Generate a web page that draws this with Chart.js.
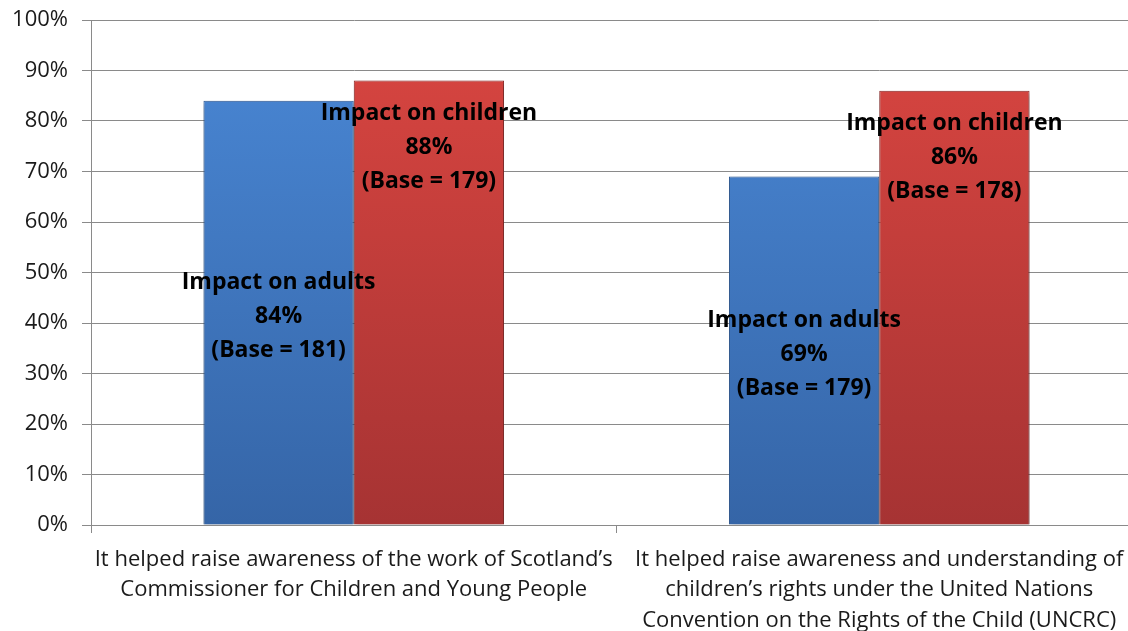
<!DOCTYPE html>
<html>
<head>
<meta charset="utf-8">
<script src="https://cdn.jsdelivr.net/npm/chart.js@4"></script>
<style>
  html, body { margin: 0; padding: 0; background: #fff; overflow: hidden; }
  #wrap { width: 1145px; height: 631px; position: relative; }
</style>
</head>
<body>
<div id="wrap"><canvas id="chart"></canvas></div>
<script>
// categories (x axis labels, already split into lines)
const categories = [
  ['It helped raise awareness of the work of Scotland\u2019s', 'Commissioner for Children and Young People'],
  ['It helped raise awareness and understanding of', 'children\u2019s rights under the United Nations', 'Convention on the Rights of the Child (UNCRC)']
];
const seriesNames = ['Impact on adults', 'Impact on children'];
const adultsValues = [84, 69];
const childrenValues = [88, 86];
const adultsBase = [181, 179];
const childrenBase = [179, 178];
const yTicks = [0, 10, 20, 30, 40, 50, 60, 70, 80, 90, 100];

const FONT = '"Open Sans", Lato, sans-serif';

function barGradient(ctx, top, bottom) {
  const chart = ctx.chart;
  const area = chart.chartArea;
  if (!area) return top;
  const g = chart.ctx.createLinearGradient(0, area.top, 0, area.bottom);
  g.addColorStop(0, top);
  g.addColorStop(1, bottom);
  return g;
}

// soft drop shadow under the bars
const barShadow = {
  id: 'barShadow',
  beforeDatasetsDraw(chart) {
    const ctx = chart.ctx;
    ctx.save();
    ctx.shadowColor = 'rgba(0,0,0,0.35)';
    ctx.shadowBlur = 5;
    ctx.shadowOffsetX = 1;
    ctx.shadowOffsetY = 2;
  },
  afterDatasetsDraw(chart) {
    chart.ctx.restore();
  }
};

// draw the in-bar labels: series name, value, base
const barLabels = {
  id: 'barLabels',
  afterDatasetsDraw(chart) {
    const ctx = chart.ctx;
    ctx.save();
    ctx.font = 'bold 23px ' + FONT;
    ctx.fillStyle = '#000';
    ctx.textAlign = 'center';
    ctx.textBaseline = 'middle';
    const lineGap = 34;
    chart.data.datasets.forEach((ds, di) => {
      const meta = chart.getDatasetMeta(di);
      meta.data.forEach((bar, i) => {
        const lines = [ds.label, ds.data[i] + '%', '(Base = ' + ds.bases[i] + ')'];
        let midY;
        if (di === 0) {
          midY = (bar.y + bar.base) / 2 + 4;
        } else {
          midY = bar.y + 33 + lineGap;
        }
        lines.forEach((t, k) => {
          ctx.fillText(t, bar.x, midY + (k - 1) * lineGap);
        });
      });
    });
    ctx.restore();
  }
};

const chart = new Chart(document.getElementById('chart'), {
  type: 'bar',
  data: {
    labels: categories,
    datasets: [
      {
        label: seriesNames[0],
        data: adultsValues,
        bases: adultsBase,
        backgroundColor: (c) => barGradient(c, '#4a88d6', '#3565a7'),
        borderColor: '#2f5b96',
        borderWidth: 1,
        categoryPercentage: 0.572,
        barPercentage: 1
      },
      {
        label: seriesNames[1],
        data: childrenValues,
        bases: childrenBase,
        backgroundColor: (c) => barGradient(c, '#da4641', '#a63333'),
        borderColor: '#8f2b29',
        borderWidth: 1,
        categoryPercentage: 0.572,
        barPercentage: 1
      }
    ]
  },
  options: {
    responsive: true,
    maintainAspectRatio: false,
    animation: false,
    layout: { padding: { top: 20, right: 3, left: 0, bottom: 0 } },
    plugins: {
      legend: { display: false },
      tooltip: { enabled: false }
    },
    scales: {
      x: {
        grid: {
          display: true,
          drawOnChartArea: false,
          drawTicks: true,
          tickLength: 8,
          color: '#8a8a8a',
          offset: true
        },
        border: { color: '#8a8a8a', width: 1 },
        ticks: {
          color: '#1a1a1a',
          font: { family: FONT, size: 22, lineHeight: 1.4 },
          padding: 11,
          maxRotation: 0,
          autoSkip: false
        },
        afterFit(scale) { scale.height = 106; scale.paddingLeft = 0; scale.paddingRight = 0; }
      },
      y: {
        min: 0,
        max: 100,
        afterBuildTicks(scale) { scale.ticks = yTicks.map(v => ({ value: v })); },
        grid: {
          color: '#8a8a8a',
          tickLength: 9,
          lineWidth: 1
        },
        border: { color: '#8a8a8a', width: 1 },
        ticks: {
          color: '#1a1a1a',
          font: { family: FONT, size: 22 },
          padding: 14,
          callback: (v) => v + '%'
        },
        afterFit(scale) { scale.width = 91; scale.paddingTop = 0; scale.paddingBottom = 0; }
      }
    }
  },
  plugins: [barShadow, barLabels]
});
</script>
</body>
</html>
